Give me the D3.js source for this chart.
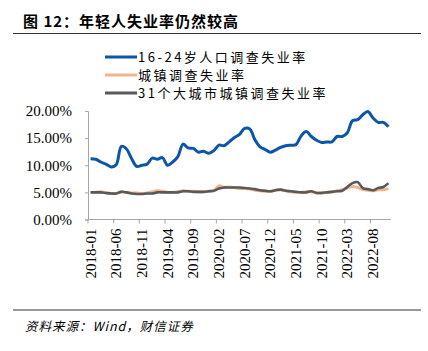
<!DOCTYPE html>
<html>
<head>
<meta charset="utf-8">
<script src="https://cdn.jsdelivr.net/npm/d3@7"></script>
<style>
  body { margin: 0; background: #fff; }
  svg { display: block; }
</style>
</head>
<body>
<svg id="chart" width="428" height="351"></svg>
<script>
// ************************************
// Data
// ************************************

// months 2018-01 .. 2022-11
const months = d3.timeMonth.range(new Date(2018, 0, 1), new Date(2022, 11, 1)).map(d3.timeFormat("%Y-%m"));

const tickLabels = ["2018-01", "2018-06", "2018-11", "2019-04", "2019-09", "2020-02",
                    "2020-07", "2020-12", "2021-05", "2021-10", "2022-03", "2022-08"];

const yTicks = [0, 5, 10, 15, 20];

const seriesNames = ["16-24岁人口调查失业率", "城镇调查失业率", "31个大城市城镇调查失业率"];

// 16-24岁人口调查失业率 (%)
const youth = [
  11.2, 11.1, 10.6, 10.2, 9.7, 10.1, 13.5, 13.0, 11.2, 9.8, 10.0, 10.2,
  11.3, 11.1, 11.4, 10.0, 10.6, 11.6, 13.9, 13.2, 13.1, 12.4, 12.6, 12.2,
  12.7, 13.7, 13.6, 14.3, 15.1, 15.7, 16.8, 16.7, 14.7, 13.4, 12.9, 12.4,
  12.8, 13.3, 13.6, 13.7, 13.8, 15.4, 16.2, 15.3, 14.6, 14.2, 14.3, 14.3,
  15.3, 15.3, 16.0, 18.2, 18.4, 19.3, 19.9, 18.7, 17.9, 17.9, 17.1
];

// 城镇调查失业率 (%)
const urban = [
  5.0, 5.0, 5.1, 4.9, 4.8, 4.8, 5.1, 5.0, 4.9, 4.9, 4.8, 4.9,
  5.1, 5.3, 5.2, 5.0, 5.0, 5.1, 5.3, 5.2, 5.2, 5.1, 5.1, 5.2,
  5.3, 6.2, 5.9, 6.0, 5.9, 5.7, 5.7, 5.6, 5.4, 5.3, 5.2, 5.2,
  5.4, 5.5, 5.3, 5.1, 5.0, 5.0, 5.1, 5.1, 4.9, 4.9, 5.0, 5.1,
  5.3, 5.5, 5.8, 6.1, 5.9, 5.5, 5.4, 5.3, 5.5, 5.5, 5.7
];

// 31个大城市城镇调查失业率 (%)
const bigCities = [
  5.0, 5.0, 5.0, 4.9, 4.8, 4.8, 5.1, 5.0, 4.8, 4.7, 4.7, 4.8,
  4.8, 5.0, 5.0, 5.0, 5.0, 5.0, 5.2, 5.2, 5.1, 5.1, 5.1, 5.2,
  5.3, 5.7, 5.9, 5.9, 5.9, 5.9, 5.8, 5.7, 5.6, 5.4, 5.3, 5.2,
  5.4, 5.5, 5.3, 5.2, 5.1, 5.0, 5.0, 5.2, 4.9, 4.9, 5.0, 5.1,
  5.2, 5.3, 6.0, 6.7, 6.9, 5.8, 5.6, 5.4, 5.8, 6.0, 6.7
];

// ************************************
// Layout
// ************************************

const svg = d3.select("#chart");

const plot = { left: 88, right: 391, top: 111, bottom: 219.5 };

const x = d3.scaleBand().domain(months).range([plot.left, plot.right]);
const y = d3.scaleLinear().domain([0, 20]).range([plot.bottom, plot.top]);

const axisColor = "#a6a6a6";
const cjk = "'Noto Sans CJK SC', sans-serif";
const serif = "'Liberation Serif', 'Times New Roman', serif";

// Title + rules
svg.append("text")
    .attr("x", 23)
    .attr("y", 27)
    .style("font-family", cjk)
    .style("font-size", "15px")
    .style("font-weight", "700")
    .style("letter-spacing", "1px")
    .text("图 12：年轻人失业率仍然较高");

svg.append("line")
    .attr("x1", 13).attr("x2", 421)
    .attr("y1", 33.5).attr("y2", 33.5)
    .attr("stroke", "#333").attr("stroke-width", 1.2);

svg.append("line")
    .attr("x1", 13).attr("x2", 421)
    .attr("y1", 310).attr("y2", 310)
    .attr("stroke", "#333").attr("stroke-width", 1.2);

svg.append("text")
    .attr("x", 25)
    .attr("y", 331)
    .style("font-family", cjk)
    .style("font-size", "12.5px")
    .style("font-style", "italic")
    .style("letter-spacing", "1px")
    .text("资料来源：Wind，财信证券");

// Y axis
const yAxis = svg.append("g")
    .attr("transform", `translate(${plot.left},0)`)
    .call(d3.axisLeft(y).tickValues(yTicks).tickSize(3).tickPadding(13)
        .tickFormat(d => d3.format(".2f")(d) + "%"));

yAxis.select(".domain").attr("stroke", axisColor);
yAxis.selectAll(".tick line").attr("stroke", axisColor);
yAxis.selectAll(".tick text")
    .style("font-family", serif)
    .style("font-size", "15px")
    .attr("fill", "#000");

// X axis (ticks at band edges, labels at band centres)
const xAxisG = svg.append("g");

xAxisG.append("line")
    .attr("x1", plot.left).attr("x2", plot.right)
    .attr("y1", plot.bottom).attr("y2", plot.bottom)
    .attr("stroke", axisColor);

xAxisG.selectAll(".xtick")
    .data(tickLabels)
    .enter()
    .append("line")
    .attr("class", "xtick")
    .attr("x1", d => x(d)).attr("x2", d => x(d))
    .attr("y1", plot.bottom).attr("y2", plot.bottom + 4)
    .attr("stroke", axisColor);

xAxisG.selectAll(".xlabel")
    .data(tickLabels)
    .enter()
    .append("text")
    .attr("class", "xlabel")
    .attr("transform", d => `translate(${x(d) + x.bandwidth() / 2 + 5},${plot.bottom + 9}) rotate(-90)`)
    .attr("text-anchor", "end")
    .style("font-family", serif)
    .style("font-size", "15px")
    .text(d => d);

// ************************************
// Lines
// ************************************

const line = d3.line()
    .x((d, i) => x(months[i]) + x.bandwidth() / 2)
    .y(d => y(d))
    .curve(d3.curveCatmullRom);

const series = [
    { name: seriesNames[1], values: urban, color: "#f2b48c", width: 3 },
    { name: seriesNames[2], values: bigCities, color: "#595959", width: 2.6 },
    { name: seriesNames[0], values: youth, color: "#0b56a8", width: 3 }
];

series.forEach(s => {
    svg.append("path")
        .datum(s.values)
        .attr("fill", "none")
        .attr("stroke", s.color)
        .attr("stroke-width", s.width)
        .attr("stroke-linejoin", "round")
        .attr("d", line);
});

// Legend
const legendItems = [series[2], series[0], series[1]];
const legend = svg.append("g");

legendItems.forEach((s, i) => {
    const ly = 57 + i * 18;
    legend.append("line")
        .attr("x1", 105).attr("x2", 137)
        .attr("y1", ly).attr("y2", ly)
        .attr("stroke", s.color)
        .attr("stroke-width", 3);
    legend.append("text")
        .attr("x", 138)
        .attr("y", ly + 4.5)
        .style("font-family", cjk)
        .style("font-size", "13px")
        .style("letter-spacing", "2.5px")
        .text(s.name);
});
</script>
</body>
</html>
